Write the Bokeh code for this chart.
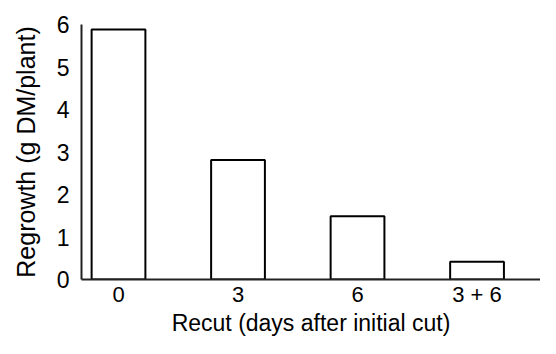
from bokeh.plotting import figure
from bokeh.models import FixedTicker, Range1d, ColumnDataSource
from bokeh.embed import file_html
from bokeh.resources import INLINE

categories = ["0", "3", "6", "3 + 6"]
regrowth = [5.88, 2.81, 1.49, 0.42]
y_ticks = [0, 1, 2, 3, 4, 5, 6]
x_title = "Recut (days after initial cut)"
y_title = "Regrowth (g DM/plant)"

xpos = list(range(len(categories)))
src = ColumnDataSource(dict(x=xpos, top=regrowth))

p = figure(width=540, height=338, output_backend="svg", toolbar_location=None,
           x_range=Range1d(-0.3096, 3.531), y_range=Range1d(0, 6),
           min_border_left=81, min_border_right=0, min_border_top=24, min_border_bottom=56)
p.outline_line_color = None
p.xgrid.visible = False
p.ygrid.visible = False

p.vbar(x="x", top="top", bottom=0, width=0.45, source=src,
       fill_color="white", line_color="black", line_width=2)

FONT = "Liberation Sans"
p.xaxis.ticker = FixedTicker(ticks=xpos)
p.xaxis.major_label_overrides = {i: c for i, c in enumerate(categories)}
p.yaxis.ticker = FixedTicker(ticks=y_ticks)

for ax in (p.xaxis[0], p.yaxis[0]):
    ax.major_tick_line_color = None
    ax.minor_tick_line_color = None
    ax.major_tick_out = 0
    ax.major_tick_in = 0
    ax.minor_tick_out = 0
    ax.minor_tick_in = 0
    ax.axis_line_color = "#222222"
    ax.axis_line_width = 2
    ax.major_label_text_font = FONT
    ax.major_label_text_color = "black"
    ax.axis_label_text_font = FONT
    ax.axis_label_text_font_style = "normal"
    ax.axis_label_text_color = "black"

p.xaxis.major_label_text_font_size = "22px"
p.yaxis.major_label_text_font_size = "23px"
p.xaxis.axis_label_text_font_size = "23px"
p.yaxis.axis_label_text_font_size = "25px"

p.xaxis.axis_label = x_title
p.yaxis.axis_label = y_title
p.xaxis.major_label_standoff = 2
p.xaxis.axis_label_standoff = 0
p.yaxis.major_label_standoff = 12
p.yaxis.axis_label_standoff = 14

open("out.html", "w").write(file_html(p, INLINE))
